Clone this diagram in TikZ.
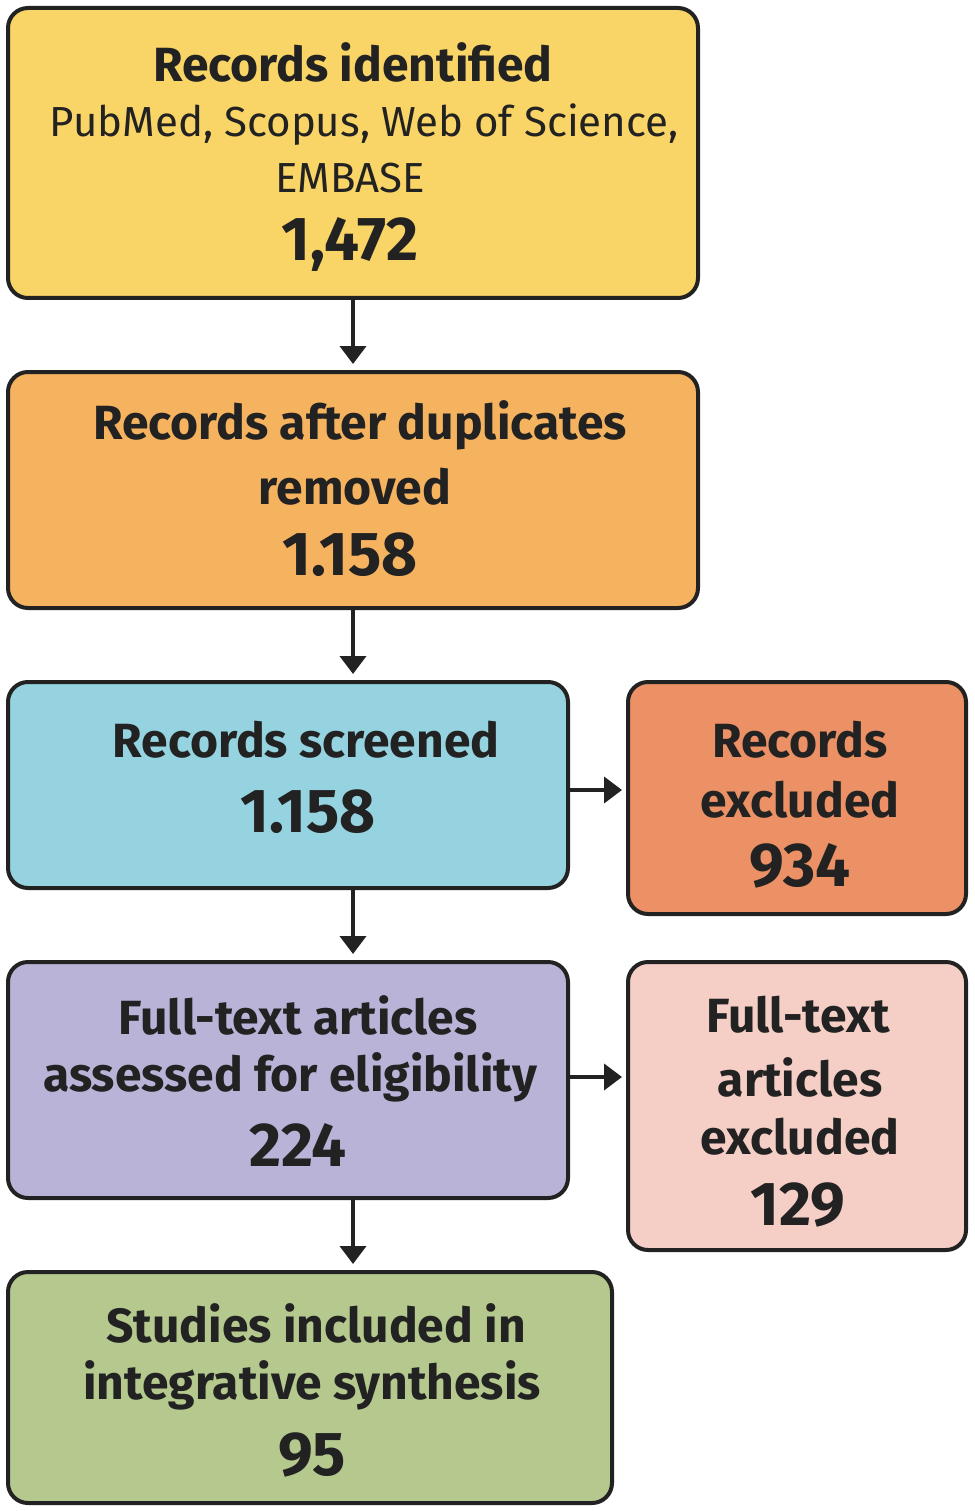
\documentclass[tikz,border=0pt]{standalone}
\usepackage{fontspec}
\setmainfont{Fira Sans}
\usetikzlibrary{arrows.meta}
\definecolor{cY}{HTML}{F9D466}
\definecolor{cO}{HTML}{F5B25F}
\definecolor{cB}{HTML}{95D3E0}
\definecolor{cR}{HTML}{EC9165}
\definecolor{cP}{HTML}{B9B3D8}
\definecolor{cK}{HTML}{F5CEC6}
\definecolor{cG}{HTML}{B5C98E}
\definecolor{ink}{HTML}{222222}
\begin{document}
\begin{tikzpicture}[x=1pt,y=-1pt,
  box/.style={draw=ink,line width=4pt,rounded corners=20pt},
  h/.style={font=\fontsize{48}{50}\selectfont\bfseries,text=ink,inner sep=0pt},
  r/.style={font=\fontsize{42}{44}\selectfont,text=ink,inner sep=0pt},
  n/.style={font=\fontsize{62}{64}\selectfont\bfseries,text=ink,inner sep=0pt},
  arr/.style={draw=ink,line width=4pt,-{Triangle[length=18pt,width=26pt]}}]
\useasboundingbox (0,0) rectangle (974,1511);
\draw[box,fill=cY] (8,8) rectangle (698,298);
\draw[box,fill=cO] (8,372) rectangle (698,608);
\draw[box,fill=cB] (8,682) rectangle (568,888);
\draw[box,fill=cR] (628,682) rectangle (966,914);
\draw[box,fill=cP] (8,962) rectangle (568,1198);
\draw[box,fill=cK] (628,962) rectangle (966,1250);
\draw[box,fill=cG] (8,1272) rectangle (612,1503);
\node[h] (t1) at (353,62) {Records identified};
\node[r] (t2) at (364,125) {PubMed, Scopus, Web of Science,};
\node[r] (t3) at (350,178) {EMBASE};
\node[n] (t4) at (350,245) {1,472};
\node[h] (o1) at (360,425) {Records after duplicates};
\node[h] (o2) at (355,487) {removed};
\node[n] (o3) at (350,555) {1.158};
\node[h] (b1) at (306,740) {Records screened};
\node[n] (b2) at (308,812) {1.158};
\node[h] (r1) at (800,740) {Records};
\node[h] (r2) at (800,800) {excluded};
\node[n] (r3) at (800,866) {934};
\node[h] (p1) at (298,1015) {Full-text articles};
\node[h] (p2) at (290,1077) {assessed for eligibility};
\node[n] (p3) at (298,1145) {224};
\node[h] (k1) at (798,1015) {Full-text};
\node[h] (k2) at (800,1077) {articles};
\node[h] (k3) at (800,1137) {excluded};
\node[n] (k4) at (798,1205) {129};
\node[h] (g1) at (316,1323) {Studies included in};
\node[h] (g2) at (312,1385) {integrative synthesis};
\node[n] (g3) at (312,1455) {95};
\coordinate (a1) at (353,298); \coordinate (a1e) at (353,364);
\coordinate (a2) at (353,608); \coordinate (a2e) at (353,674);
\coordinate (a3) at (353,888); \coordinate (a3e) at (353,954);
\coordinate (a4) at (353,1198); \coordinate (a4e) at (353,1264);
\coordinate (h1) at (568,790); \coordinate (h1e) at (622,790);
\coordinate (h2) at (568,1077); \coordinate (h2e) at (622,1077);
\draw[arr] (a1)--(a1e); \draw[arr] (a2)--(a2e); \draw[arr] (a3)--(a3e);
\draw[arr] (a4)--(a4e); \draw[arr] (h1)--(h1e); \draw[arr] (h2)--(h2e);
\end{tikzpicture}
\end{document}
